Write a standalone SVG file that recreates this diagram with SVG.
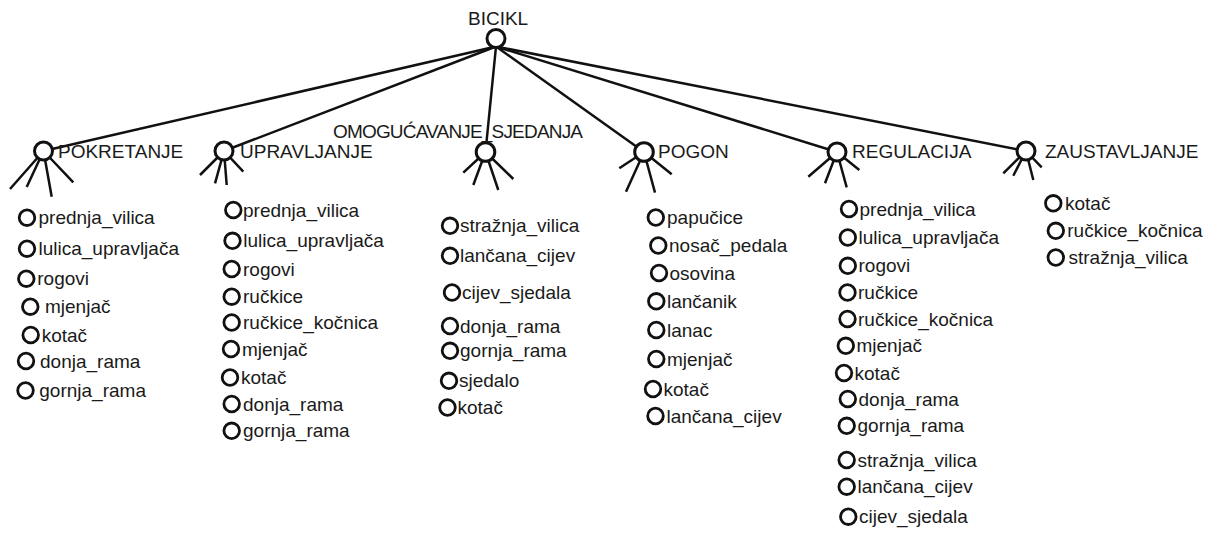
<svg xmlns="http://www.w3.org/2000/svg" width="1218" height="541" viewBox="0 0 1218 541">
<style>
text{font-family:"Liberation Sans",Arial,sans-serif;fill:#1a1a1a}
.h{font-size:19px}
.l{font-size:19px}
.hc{fill:#fff;stroke:#111;stroke-width:3}
.lc{fill:#fff;stroke:#111;stroke-width:2.8}
.ln{stroke:#111;stroke-width:2.5;fill:none}
</style>
<rect width="1218" height="541" fill="#fff"/>
<g id="connectors" class="ln">
<line x1="496" y1="46.5" x2="43.5" y2="151"/>
<line x1="496" y1="46.5" x2="224" y2="151"/>
<line x1="496" y1="46.5" x2="485.5" y2="152"/>
<line x1="496" y1="46.5" x2="644" y2="152"/>
<line x1="496" y1="46.5" x2="837" y2="152"/>
<line x1="496" y1="46.5" x2="1026" y2="151"/>
</g>
<g id="bicikl">
<circle class="hc" cx="496" cy="38.5" r="9"/>
<text class="h" x="468" y="25">BICIKL</text>
</g>
<g id="pokretanje">
<path class="ln" d="M43.5 151L10 189M43.5 151L26.7 187M43.5 151L51.7 196.7M43.5 151L73.3 182.3"/>
<circle class="hc" cx="43.5" cy="151" r="9"/>
<text class="h" x="58" y="158">POKRETANJE</text>
</g>
<g id="upravljanje">
<path class="ln" d="M224 151L200 175M224 151L215 183.3M224 151L226.7 185M224 151L243.3 171.7"/>
<circle class="hc" cx="224" cy="151" r="9"/>
<text class="h" x="240" y="158">UPRAVLJANJE</text>
</g>
<g id="omogucavanje">
<path class="ln" d="M485.5 152L463.3 172.7M485.5 152L473.3 185M485.5 152L498.3 190M485.5 152L513.3 179"/>
<circle class="hc" cx="485.5" cy="152" r="9.3"/>
<text class="h" x="333" y="138" textLength="250">OMOGUĆAVANJE_SJEDANJA</text>
</g>
<g id="pogon">
<path class="ln" d="M644 152L619.3 168.3M644 152L626 191.7M644 152L655 192.7M644 152L671.7 174.3"/>
<circle class="hc" cx="644" cy="152" r="9.3"/>
<text class="h" x="658" y="158">POGON</text>
</g>
<g id="regulacija">
<path class="ln" d="M837 152L808.3 176.7M837 152L825 183.3M837 152L846.7 187.3M837 152L859.3 170"/>
<circle class="hc" cx="837" cy="152" r="9"/>
<text class="h" x="852" y="158">REGULACIJA</text>
</g>
<g id="zaustavljanje">
<path class="ln" d="M1026 151L1003.3 173.3M1026 151L1013.3 175.7M1026 151L1033.3 180M1026 151L1041.7 167.3"/>
<circle class="hc" cx="1026" cy="151" r="9"/>
<text class="h" x="1045" y="158">ZAUSTAVLJANJE</text>
</g>

<g id="pokretanje-items">
<g id="p1"><circle class="lc" cx="27" cy="217.7" r="7.8"/><text class="l" x="38.5" y="224.2">prednja_vilica</text></g>
<g id="p2"><circle class="lc" cx="27" cy="248.7" r="7.8"/><text class="l" x="38.5" y="255.2">lulica_upravljača</text></g>
<g id="p3"><circle class="lc" cx="26.3" cy="278.7" r="7.8"/><text class="l" x="37.3" y="285.2">rogovi</text></g>
<g id="p4"><circle class="lc" cx="30.3" cy="306.7" r="7.8"/><text class="l" x="45" y="313.2">mjenjač</text></g>
<g id="p5"><circle class="lc" cx="30.7" cy="335" r="7.8"/><text class="l" x="41.7" y="341.5">kotač</text></g>
<g id="p6"><circle class="lc" cx="26" cy="361" r="7.8"/><text class="l" x="40" y="367.5">donja_rama</text></g>
<g id="p7"><circle class="lc" cx="25.5" cy="390.5" r="7.8"/><text class="l" x="39.3" y="397">gornja_rama</text></g>
</g>

<g id="upravljanje-items">
<g id="u1"><circle class="lc" cx="233.3" cy="210" r="7.8"/><text class="l" x="243" y="216.5">prednja_vilica</text></g>
<g id="u2"><circle class="lc" cx="232.5" cy="240.8" r="7.8"/><text class="l" x="243.3" y="247.3">lulica_upravljača</text></g>
<g id="u3"><circle class="lc" cx="231.7" cy="269" r="7.8"/><text class="l" x="243" y="275.5">rogovi</text></g>
<g id="u4"><circle class="lc" cx="231.7" cy="296.7" r="7.8"/><text class="l" x="243" y="303.2">ručkice</text></g>
<g id="u5"><circle class="lc" cx="231.7" cy="322.5" r="7.8"/><text class="l" x="243" y="329">ručkice_kočnica</text></g>
<g id="u6"><circle class="lc" cx="231" cy="349" r="7.8"/><text class="l" x="242" y="355.5">mjenjač</text></g>
<g id="u7"><circle class="lc" cx="230" cy="377.5" r="7.8"/><text class="l" x="241" y="384">kotač</text></g>
<g id="u8"><circle class="lc" cx="231.7" cy="404" r="7.8"/><text class="l" x="243" y="410.5">donja_rama</text></g>
<g id="u9"><circle class="lc" cx="231.7" cy="430.8" r="7.8"/><text class="l" x="243" y="437.3">gornja_rama</text></g>
</g>

<g id="omogucavanje-items">
<g id="o1"><circle class="lc" cx="450" cy="225.8" r="7.8"/><text class="l" x="460" y="232.3">stražnja_vilica</text></g>
<g id="o2"><circle class="lc" cx="450" cy="255.8" r="7.8"/><text class="l" x="460" y="262.3">lančana_cijev</text></g>
<g id="o3"><circle class="lc" cx="452" cy="292.5" r="7.8"/><text class="l" x="462" y="299">cijev_sjedala</text></g>
<g id="o4"><circle class="lc" cx="450" cy="326" r="7.8"/><text class="l" x="460" y="332.5">donja_rama</text></g>
<g id="o5"><circle class="lc" cx="450" cy="350.8" r="7.8"/><text class="l" x="460" y="357.3">gornja_rama</text></g>
<g id="o6"><circle class="lc" cx="449" cy="380.8" r="7.8"/><text class="l" x="459" y="387.3">sjedalo</text></g>
<g id="o7"><circle class="lc" cx="447.5" cy="407.5" r="7.8"/><text class="l" x="457.5" y="414">kotač</text></g>
</g>

<g id="pogon-items">
<g id="g1"><circle class="lc" cx="655.8" cy="217.5" r="7.8"/><text class="l" x="667" y="224">papučice</text></g>
<g id="g2"><circle class="lc" cx="658.3" cy="245.5" r="7.8"/><text class="l" x="669" y="252">nosač_pedala</text></g>
<g id="g3"><circle class="lc" cx="659" cy="273" r="7.8"/><text class="l" x="669.5" y="279.5">osovina</text></g>
<g id="g4"><circle class="lc" cx="656.3" cy="301.3" r="7.8"/><text class="l" x="667" y="307.8">lančanik</text></g>
<g id="g5"><circle class="lc" cx="656.3" cy="330" r="7.8"/><text class="l" x="667" y="336.5">lanac</text></g>
<g id="g6"><circle class="lc" cx="656.3" cy="359" r="7.8"/><text class="l" x="667" y="365.5">mjenjač</text></g>
<g id="g7"><circle class="lc" cx="653" cy="389" r="7.8"/><text class="l" x="663.5" y="395.5">kotač</text></g>
<g id="g8"><circle class="lc" cx="655.5" cy="416" r="7.8"/><text class="l" x="666.5" y="422.5">lančana_cijev</text></g>
</g>

<g id="regulacija-items">
<g id="r1"><circle class="lc" cx="849" cy="209" r="7.8"/><text class="l" x="859.5" y="215.5">prednja_vilica</text></g>
<g id="r2"><circle class="lc" cx="847.8" cy="237.5" r="7.8"/><text class="l" x="858.5" y="244">lulica_upravljača</text></g>
<g id="r3"><circle class="lc" cx="847.8" cy="265.8" r="7.8"/><text class="l" x="858.5" y="272.3">rogovi</text></g>
<g id="r4"><circle class="lc" cx="847.5" cy="292.5" r="7.8"/><text class="l" x="858" y="299">ručkice</text></g>
<g id="r5"><circle class="lc" cx="847.5" cy="319" r="7.8"/><text class="l" x="858" y="325.5">ručkice_kočnica</text></g>
<g id="r6"><circle class="lc" cx="845.8" cy="345.8" r="7.8"/><text class="l" x="856.5" y="352.3">mjenjač</text></g>
<g id="r7"><circle class="lc" cx="844" cy="373" r="7.8"/><text class="l" x="854.5" y="379.5">kotač</text></g>
<g id="r8"><circle class="lc" cx="847.8" cy="399" r="7.8"/><text class="l" x="858.5" y="405.5">donja_rama</text></g>
<g id="r9"><circle class="lc" cx="846.7" cy="425.8" r="7.8"/><text class="l" x="857.5" y="432.3">gornja_rama</text></g>
<g id="r10"><circle class="lc" cx="846.7" cy="460" r="7.8"/><text class="l" x="857.5" y="466.5">stražnja_vilica</text></g>
<g id="r11"><circle class="lc" cx="846.7" cy="486.7" r="7.8"/><text class="l" x="857.5" y="493.2">lančana_cijev</text></g>
<g id="r12"><circle class="lc" cx="848.3" cy="516.7" r="7.8"/><text class="l" x="859" y="523.2">cijev_sjedala</text></g>
</g>

<g id="zaustavljanje-items">
<g id="z1"><circle class="lc" cx="1053.3" cy="203.3" r="7.8"/><text class="l" x="1065" y="209.8">kotač</text></g>
<g id="z2"><circle class="lc" cx="1055.8" cy="230.8" r="7.8"/><text class="l" x="1067.3" y="237.3">ručkice_kočnica</text></g>
<g id="z3"><circle class="lc" cx="1055.8" cy="257.5" r="7.8"/><text class="l" x="1068.5" y="264">stražnja_vilica</text></g>
</g>
</svg>
